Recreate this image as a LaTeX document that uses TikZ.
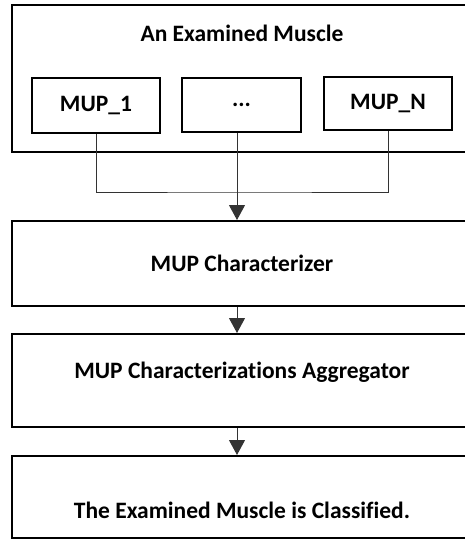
\documentclass[tikz,border=0pt]{standalone}
\usepackage{fontspec}
\setmainfont{Carlito}[Ligatures=NoCommon]
\usetikzlibrary{arrows.meta}

\tikzset{
  bigbox/.style={draw, line width=2pt, minimum width=460pt, inner sep=0pt},
  mupbox/.style={draw, line width=2pt, inner sep=0pt},
  txt/.style={font=\fontsize{23.5}{28}\selectfont\bfseries},
  conn/.style={line width=1pt, draw=black!80},
  arr/.style={conn, -{Triangle[width=16pt, length=15pt]}}
}

\begin{document}
\begin{tikzpicture}[x=1pt, y=-1pt]
      \useasboundingbox (0,0) rectangle (465,539);
      \clip (0,0) rectangle (465,539);
      % the examined muscle and its MUPs
      \node[bigbox, minimum height=147pt] (muscle) at (242,78.5) {};
      \node[txt] (muscletxt) at (242,33) {An Examined Muscle};
      \node[mupbox, txt, minimum width=128pt, minimum height=55pt] (mup1) at (96,105.5) {MUP\_1};
      \node[mupbox, txt, minimum width=119pt, minimum height=54pt] (dots) at (241.5,105) {...};
      \node[mupbox, txt, minimum width=128pt, minimum height=53pt] (mupn) at (388,103.5) {MUP\_N};
      % processing steps
      \node[bigbox, txt, minimum height=85pt] (charbox) at (242,263.5) {MUP Characterizer};
      \node[bigbox, minimum height=93pt] (aggbox) at (242,380.5) {};
      \node[txt] (aggtxt) at (242,372) {MUP Characterizations Aggregator};
      \node[bigbox, minimum height=82pt] (classbox) at (242,497) {};
      \node[txt] (classtxt) at (242,510) {The Examined Muscle is Classified.};
      % connectors
      \coordinate (mid) at (237,192);
      \draw[conn] (mup1.south) |- (mid) -| (mupn.south);
      \draw[arr] (dots.south -| mid) -- (mid |- charbox.north);
      \draw[arr] (mid |- charbox.south) -- (mid |- aggbox.north);
      \draw[arr] (mid |- aggbox.south) -- (mid |- classbox.north);
    \end{tikzpicture}
\end{document}
